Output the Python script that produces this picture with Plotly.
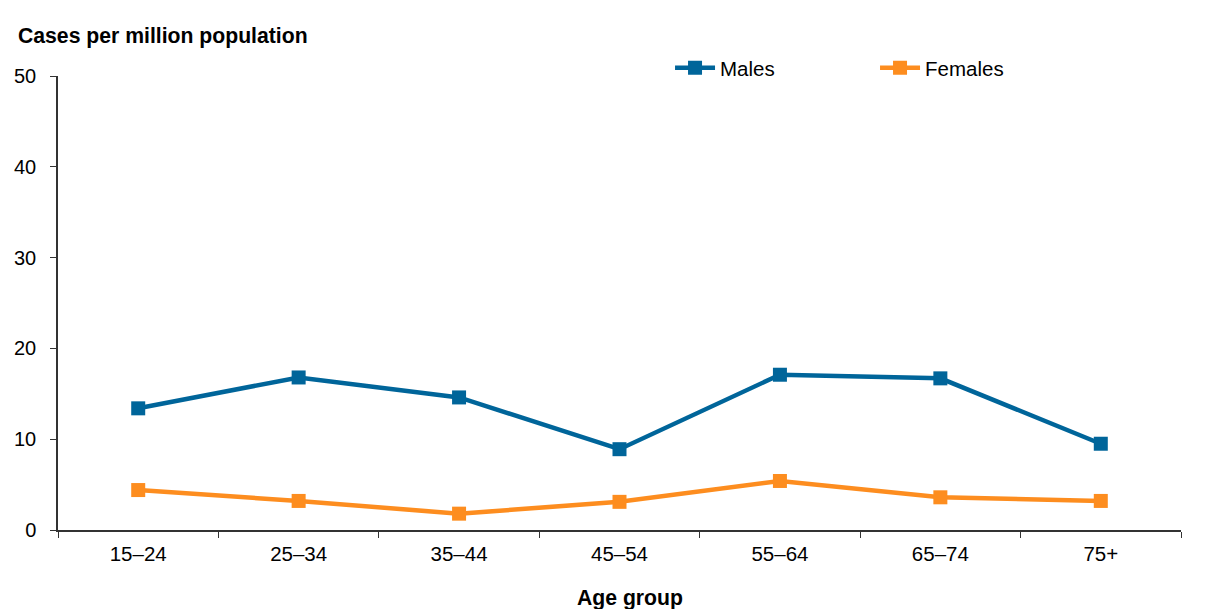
import plotly.graph_objects as go

# Age-specific rates, cases per million population
age_groups = ["15–24", "25–34", "35–44", "45–54", "55–64", "65–74", "75+"]
males = [13.4, 16.8, 14.6, 8.9, 17.1, 16.7, 9.5]
females = [4.4, 3.2, 1.8, 3.1, 5.4, 3.6, 3.2]
y_ticks = [0, 10, 20, 30, 40, 50]

MALE_COLOUR = "#00659A"
FEMALE_COLOUR = "#FD8D1F"
FONT = "Liberation Sans, Arial, sans-serif"

fig = go.Figure()
fig.add_trace(go.Scatter(
    x=age_groups, y=males, name="Males", mode="lines+markers",
    line=dict(color=MALE_COLOUR, width=4.5),
    marker=dict(symbol="square", size=14, color=MALE_COLOUR),
))
fig.add_trace(go.Scatter(
    x=age_groups, y=females, name="Females", mode="lines+markers",
    line=dict(color=FEMALE_COLOUR, width=4.5),
    marker=dict(symbol="square", size=14, color=FEMALE_COLOUR),
))

fig.update_layout(
    width=1224, height=609,
    margin=dict(l=58, r=43, t=76, b=79),
    paper_bgcolor="white", plot_bgcolor="white",
    font=dict(family=FONT, size=20, color="#000000"),
    showlegend=True,
    legend=dict(
        orientation="h", x=0.545, y=1.018, xanchor="left", yanchor="middle",
        font=dict(size=20.5, family=FONT), entrywidth=150,
        bgcolor="rgba(0,0,0,0)", itemwidth=40,
    ),
    xaxis=dict(
        type="category", range=[-0.5, 6.5], tickson="boundaries",
        showline=True, linecolor="#333333", linewidth=1.5,
        ticks="outside", ticklen=6, tickcolor="#333333",
        showgrid=False, zeroline=False,
        tickfont=dict(size=20.5, family=FONT), ticklabelstandoff=5,
    ),
    yaxis=dict(
        range=[0, 50], tickvals=y_ticks,
        showline=True, linecolor="#333333", linewidth=1.5,
        ticks="outside", ticklen=6, tickcolor="#333333",
        showgrid=False, zeroline=False,
        tickfont=dict(size=20, family=FONT), ticklabelstandoff=10,
    ),
    annotations=[
        dict(text="<b>Cases per million population</b>", xref="paper", yref="paper",
             x=-0.0375, y=1.088, xanchor="left", yanchor="middle", showarrow=False,
             font=dict(size=21.2, family=FONT)),
        dict(text="<b>Age group</b>", xref="paper", yref="paper",
             x=0.509, y=-0.15, xanchor="center", yanchor="middle", showarrow=False,
             font=dict(size=21.2, family=FONT)),
    ],
)

fig.write_html("out.html")
